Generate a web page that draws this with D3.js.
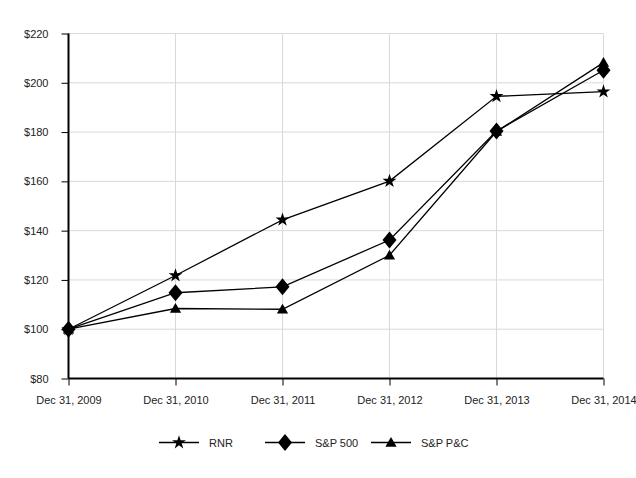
<!DOCTYPE html>
<html><head><meta charset="utf-8">
<script src="https://cdn.jsdelivr.net/npm/d3@7"></script>
<style>
html,body{margin:0;padding:0;background:#fff;}
svg text{font-family:"Liberation Sans",Arial,sans-serif;font-size:11px;fill:#222;}
</style></head>
<body><svg id="c" width="636" height="478"></svg>
<script>
const categories = ["Dec 31, 2009","Dec 31, 2010","Dec 31, 2011","Dec 31, 2012","Dec 31, 2013","Dec 31, 2014"];
const rnr   = [100, 121.8, 144.4, 160.1, 194.5, 196.4];
const sp500 = [100, 114.8, 117.2, 136.2, 180.4, 205.1];
const sppc  = [100, 108.4, 108.1, 130.0, 180.2, 208.2];
const yTicks = [80,100,120,140,160,180,200,220];
const seriesNames = ["RNR","S&P 500","S&P P&C"];

const svg = d3.select("#c");
const x = d3.scalePoint().domain(categories).range([68.5, 603.5]);
const y = d3.scaleLinear().domain([80,220]).range([378.5, 33.5]);

// gridlines
svg.append("g").selectAll("line.h").data(yTicks.filter(d=>d>80)).join("line")
  .attr("x1",68.5).attr("x2",603.5).attr("y1",d=>y(d)).attr("y2",d=>y(d))
  .attr("stroke","#d9d9d9").attr("stroke-width",1);
svg.append("g").selectAll("line.v").data(categories.slice(1)).join("line")
  .attr("x1",d=>x(d)).attr("x2",d=>x(d)).attr("y1",33.5).attr("y2",378.5)
  .attr("stroke","#d9d9d9").attr("stroke-width",1);

// axes
const yAxis = d3.axisLeft(y).tickValues(yTicks).tickFormat(d=>"$"+d).tickSize(7).tickPadding(13);
const gy = svg.append("g").attr("transform","translate(68.5,0)").call(yAxis);
gy.select(".domain").attr("stroke","#000").attr("stroke-width",2).attr("d","M0,33.5V378.5");
gy.selectAll(".tick line").attr("stroke","#000");
const xAxis = d3.axisBottom(x).tickSize(7).tickPadding(11);
const gx = svg.append("g").attr("transform","translate(0,378.5)").call(xAxis);
gx.select(".domain").attr("stroke","#000").attr("stroke-width",2).attr("d","M68.5,0H603.5");
gx.selectAll(".tick line").attr("stroke","#000");
svg.selectAll(".tick text").style("font-family","'Liberation Sans',Arial,sans-serif").style("font-size","11px").attr("fill","#222");

const diamond = {draw(ctx, size){ const w=7, h=8.5; ctx.moveTo(0,-h); ctx.lineTo(w,0); ctx.lineTo(0,h); ctx.lineTo(-w,0); ctx.closePath(); }};
const symbols = [
  d3.symbol().type(d3.symbolStar).size(60),
  d3.symbol().type(diamond),
  d3.symbol().type(d3.symbolTriangle).size(55)
];
const data = [rnr, sp500, sppc];
const line = d3.line().x((d,i)=>x(categories[i])).y(d=>y(d));
data.forEach((s,k)=>{
  svg.append("path").attr("d",line(s)).attr("fill","none").attr("stroke","#000").attr("stroke-width",1.3);
});
data.forEach((s,k)=>{
  svg.append("g").selectAll("path").data(s).join("path")
    .attr("d",symbols[k]())
    .attr("transform",(d,i)=>`translate(${x(categories[i])},${y(d) + (k===2?1:0)})`)
    .attr("fill","#000");
});

// legend
const legX = [159, 265, 371];
seriesNames.forEach((n,k)=>{
  const g = svg.append("g").attr("transform",`translate(${legX[k]},442.5)`);
  g.append("line").attr("x1",0).attr("x2",40).attr("stroke","#000").attr("stroke-width",1.3);
  g.append("path").attr("d",symbols[k]()).attr("transform",`translate(20,${k===2?1:0})`).attr("fill","#000");
  g.append("text").attr("x",50).attr("y",4).text(n);
});
</script></body></html>
